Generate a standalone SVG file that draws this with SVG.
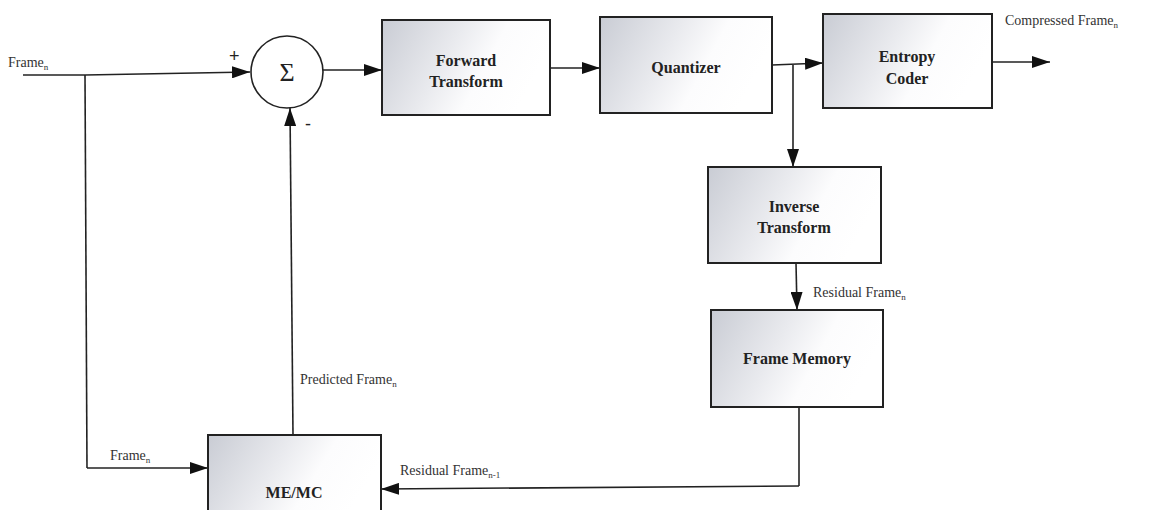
<svg xmlns="http://www.w3.org/2000/svg" width="1158" height="510" viewBox="0 0 1158 510">
<defs>
<linearGradient id="g" x1="0" y1="0" x2="1" y2="0.3">
<stop offset="0" stop-color="#c9ccd4"/>
<stop offset="0.45" stop-color="#e9eaee"/>
<stop offset="0.7" stop-color="#fcfcfd"/>
<stop offset="1" stop-color="#ffffff"/>
</linearGradient>
<marker id="ah" viewBox="0 0 18 12" refX="18" refY="6" markerWidth="18" markerHeight="12" markerUnits="userSpaceOnUse" orient="auto">
<path d="M0,0 L18,6 L0,12 Z" fill="#111"/>
</marker>
<style>
.box{fill:url(#g);stroke:#222;stroke-width:2}
.bl{font-family:"Liberation Serif",serif;font-weight:bold;font-size:16px;fill:#222;text-anchor:middle}
.lb{font-family:"Liberation Serif",serif;font-size:14px;fill:#333}
.sub{font-size:9px}
.ln{fill:none;stroke:#222;stroke-width:1.6}
.arr{fill:none;stroke:#222;stroke-width:1.6;marker-end:url(#ah)}
</style>
</defs>
<g id="connectors">
<path class="ln" d="M23,75 L85,75"/>
<path class="arr" d="M85,75 L250,72"/>
<path class="ln" d="M85,75 L87,468"/>
<path class="arr" d="M87,468 L208,468"/>
<path class="arr" d="M323,70 L382,70"/>
<path class="arr" d="M550,68 L600,68"/>
<path class="arr" d="M772,65 L823,63"/>
<path class="arr" d="M793,65 L793,167"/>
<path class="arr" d="M992,62 L1050,62"/>
<path class="arr" d="M796,263 L797,310"/>
<path class="ln" d="M799,407 L799,486"/>
<path class="arr" d="M799,486 L381,489"/>
<path class="arr" d="M293,435 L290,108"/>
</g>
<g id="sum">
<circle cx="287" cy="72" r="36" fill="#fff" stroke="#222" stroke-width="1.6"/>
<text x="287" y="81" font-family="Liberation Serif,serif" font-size="26" text-anchor="middle" fill="#222">Σ</text>
<text x="229" y="62" font-family="Liberation Sans,sans-serif" font-size="18" fill="#222">+</text>
<text x="305" y="130" font-family="Liberation Sans,sans-serif" font-size="18" fill="#222">-</text>
</g>
<g id="forward-transform">
<rect class="box" x="382" y="20" width="168" height="95"/>
<text class="bl" x="466" y="66">Forward</text>
<text class="bl" x="466" y="87">Transform</text>
</g>
<g id="quantizer">
<rect class="box" x="600" y="17" width="172" height="96"/>
<text class="bl" x="686" y="73">Quantizer</text>
</g>
<g id="entropy-coder">
<rect class="box" x="823" y="14" width="169" height="94"/>
<text class="bl" x="907" y="62">Entropy</text>
<text class="bl" x="907" y="84">Coder</text>
</g>
<g id="inverse-transform">
<rect class="box" x="708" y="167" width="173" height="96"/>
<text class="bl" x="794" y="212">Inverse</text>
<text class="bl" x="794" y="233">Transform</text>
</g>
<g id="frame-memory">
<rect class="box" x="711" y="310" width="172" height="97"/>
<text class="bl" x="797" y="364">Frame Memory</text>
</g>
<g id="me-mc">
<rect class="box" x="208" y="435" width="173" height="85"/>
<text class="bl" x="294" y="498">ME/MC</text>
</g>
<g id="labels">
<text class="lb" x="8" y="67">Frame<tspan class="sub" dy="3">n</tspan></text>
<text class="lb" x="1005" y="25">Compressed Frame<tspan class="sub" dy="3">n</tspan></text>
<text class="lb" x="813" y="297">Residual Frame<tspan class="sub" dy="3">n</tspan></text>
<text class="lb" x="300" y="384">Predicted Frame<tspan class="sub" dy="3">n</tspan></text>
<text class="lb" x="400" y="475">Residual Frame<tspan class="sub" dy="3">n-1</tspan></text>
<text class="lb" x="110" y="460">Frame<tspan class="sub" dy="3">n</tspan></text>
</g>
</svg>
